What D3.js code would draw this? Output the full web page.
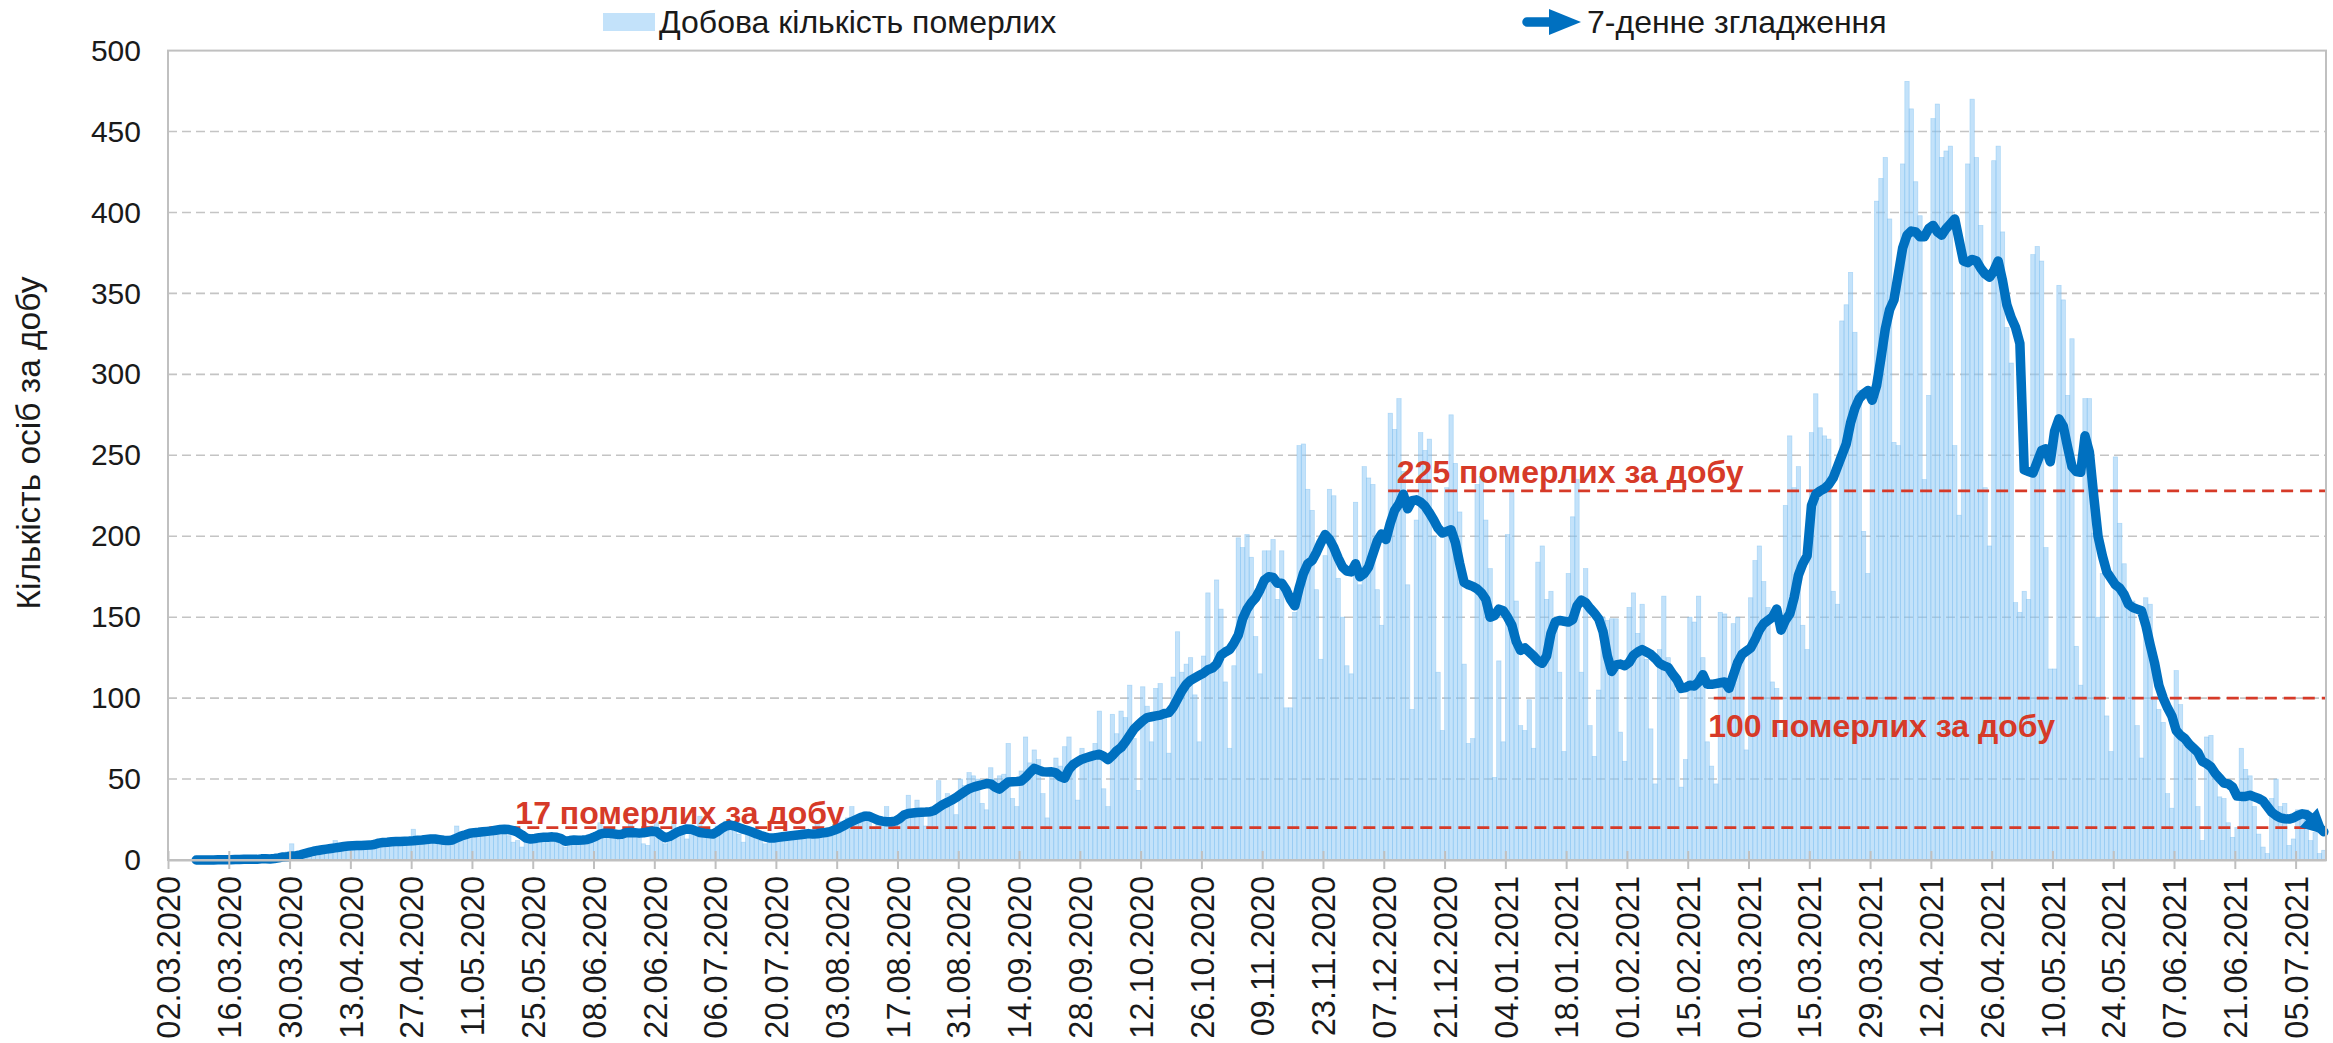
<!DOCTYPE html>
<html>
<head>
<meta charset="utf-8">
<script src="https://cdn.jsdelivr.net/npm/d3@7"></script>
<style>
  body { margin: 0; background: #fff; }
  svg { display: block; font-family: "Liberation Sans", Arial, sans-serif; }
</style>
</head>
<body>
<div class="deathsChart"></div>
<script>
// daily deaths, one value per day starting 02.03.2020 (Mon..Sun per row)
const dailyDeaths = [
  0,0,0,0,0,0,0,
  0,0,0,0,1,0,0,
  0,1,0,1,0,0,1,
  0,2,1,0,2,3,5,
  10,2,5,4,6,5,7,
  7,8,8,12,8,9,9,
  9,10,8,9,10,9,12,
  11,10,13,12,11,12,13,
  19,9,12,13,11,13,12,
  10,14,13,21,15,16,17,
  16,18,17,19,18,20,19,
  16,15,11,12,8,13,12,
  14,15,13,16,14,15,12,
  8,13,12,11,14,12,16,
  17,23,15,16,14,15,17,
  19,24,18,17,10,9,21,
  23,12,10,17,24,16,20,
  13,19,18,27,15,14,16,
  21,20,24,22,23,16,11,
  18,15,14,12,10,11,14,
  15,16,15,13,14,17,19,
  18,14,23,17,19,16,22,
  24,21,26,33,25,28,30,
  27,20,22,23,33,22,24,
  26,30,40,29,37,31,21,
  30,33,49,36,41,39,28,
  50,46,54,52,50,35,31,
  57,50,52,53,72,38,33,
  55,76,60,68,62,41,26,
  55,63,58,70,76,61,37,
  69,60,64,72,92,44,33,
  90,78,92,88,108,75,43,
  107,95,73,106,109,91,66,
  113,141,116,121,125,102,73,
  126,165,116,173,155,110,69,
  120,199,193,201,187,138,115,
  191,191,198,161,191,94,94,
  153,256,257,229,216,167,124,
  188,229,225,174,150,120,115,
  221,170,243,236,232,167,145,
  195,276,266,285,240,170,93,
  210,264,253,260,200,116,80,
  230,275,245,215,121,72,75,
  232,237,210,180,51,123,73,
  201,227,160,83,80,99,69,
  184,194,161,166,144,116,67,
  177,212,235,116,180,83,64,
  105,150,148,149,149,79,61,
  156,165,140,158,124,81,47,
  130,163,125,115,105,45,62,
  150,147,163,125,73,58,47,
  153,152,110,146,150,124,68,
  162,185,194,172,156,110,106,
  80,219,262,230,243,145,130,
  264,288,267,262,260,166,158,
  333,343,363,326,290,203,177,
  290,407,421,434,396,258,256,
  430,481,464,419,398,235,287,
  458,467,434,438,441,256,213,
  367,430,470,434,392,230,194,
  432,441,388,329,307,159,153,
  166,161,374,379,370,193,118,
  118,355,346,287,322,132,108,
  285,285,202,150,177,89,67,
  249,208,183,158,160,83,63,
  162,158,101,93,85,41,32,
  117,96,71,70,67,33,12,
  76,77,56,39,38,23,14,
  20,69,56,52,33,16,8,
  4,38,50,33,35,9,13,
  31,31,31,12,17,4,6
];

// 7-day smoothing, first value belongs to day index 6 (08.03.2020)
const smoothStartDay = 6;
const smoothed = [
  0,0,0,0,0,0.1,0.1,0.1,0.1,0.3,
  0.3,0.4,0.4,0.4,0.4,0.7,0.7,0.6,0.9,1.3,
  1.9,2.0,2.5,2.7,3.2,4.0,4.7,5.4,5.9,6.3,
  6.7,7.1,7.5,7.9,8.3,8.6,8.8,8.9,9.0,9.1,
  9.2,9.6,10.4,10.8,11.0,11.3,11.4,11.5,11.6,11.7,
  11.9,12.2,12.4,12.7,13.0,13.0,12.6,12.2,12.0,12.4,
  13.6,14.8,15.6,16.5,16.9,17.1,17.4,17.7,18.0,18.4,
  18.8,19.0,18.8,18.2,17.2,15.5,13.5,13.0,13.3,13.8,
  14.0,14.1,14.3,14.0,13.2,11.6,12.0,12.3,12.2,12.3,
  12.6,13.5,14.6,16.0,16.6,16.5,16.2,15.8,15.9,16.8,
  17.0,16.9,16.6,16.8,17.3,17.8,17.6,15.5,13.8,14.5,
  16.0,17.5,18.4,19.2,19.0,18.0,17.0,16.6,16.3,16.0,
  17.5,19.5,21.0,21.5,21.0,20.0,19.0,18.2,17.3,16.2,
  15.2,14.3,13.6,13.6,14.0,14.4,14.7,15.0,15.3,15.6,
  15.9,16.3,16.0,16.2,16.7,17.0,17.5,18.5,19.6,21.0,
  22.5,23.8,25.0,26.2,27.1,27.0,25.8,24.6,24.0,23.6,
  23.6,24.0,25.5,27.8,28.7,29.0,29.3,29.5,29.6,29.8,
  30.6,32.5,34.3,35.6,37.0,38.6,40.5,42.3,44.0,45.0,
  45.8,46.5,47.2,47.0,45.0,43.8,46.0,48.2,48.4,48.5,
  48.8,51.0,54.0,56.6,55.5,54.5,54.3,54.5,53.8,51.5,
  50.5,56.0,59.0,60.8,62.3,63.2,64.0,64.8,65.3,64.0,
  62.0,64.5,67.5,69.5,73.0,77.0,81.0,83.5,86.0,88.0,
  88.5,89.0,89.5,90.5,91.0,94.5,99.5,104.5,108.5,111.0,
  112.5,114.0,115.5,117.5,118.5,121.0,126.5,128.5,130.0,134.0,
  139.0,149.0,155.0,159.0,162.0,167.0,173.0,175.0,174.6,171.0,
  171.0,167.0,161.0,157.0,168.0,177.0,183.0,185.0,190.0,196.0,
  201.0,198.0,193.0,186.5,181.0,178.5,178.0,183.0,175.0,177.0,
  181.0,189.0,197.0,201.4,198.0,208.0,216.0,220.0,226.0,217.0,
  222.0,222.5,221.0,218.5,214.5,210.0,205.0,202.0,203.0,204.0,
  196.0,183.0,171.5,170.0,169.0,167.5,165.0,161.0,150.0,151.0,
  155.0,154.0,150.0,145.0,135.0,129.5,131.0,128.5,126.0,123.0,
  121.5,126.0,140.0,147.0,148.0,147.5,147.0,148.5,157.0,160.5,
  159.0,155.5,152.5,149.0,141.0,126.0,116.5,120.5,121.0,120.0,
  122.0,126.5,128.5,130.0,128.5,127.0,124.5,121.5,120.0,119.0,
  115.0,111.5,106.0,106.5,108.0,107.5,110.0,114.5,108.5,108.5,
  109.0,109.5,110.0,106.0,114.0,122.0,127.0,129.0,131.0,136.0,
  142.0,146.0,148.0,150.0,155.0,142.0,148.0,152.0,162.0,176.0,
  183.0,188.0,219.0,226.0,228.0,229.5,232.0,236.0,243.0,250.0,
  257.0,270.0,279.0,285.0,288.0,290.0,284.0,293.0,310.0,328.0,
  340.0,346.0,362.0,378.0,386.0,388.5,388.0,385.0,385.0,390.0,
  392.0,388.0,386.0,390.0,393.0,396.0,383.0,370.0,369.0,371.0,
  370.0,365.5,362.0,360.0,364.0,370.0,358.0,343.0,335.0,329.0,
  319.0,241.0,240.0,239.0,246.0,253.0,254.0,246.0,265.0,272.5,
  268.0,255.0,243.0,240.0,239.5,262.0,252.0,225.0,200.0,188.0,
  178.0,174.0,170.0,168.0,164.0,158.0,156.0,155.0,154.0,145.0,
  133.0,122.0,108.0,100.0,94.0,89.0,80.0,77.0,75.0,71.5,
  69.0,66.5,61.0,59.5,57.5,53.5,50.5,47.5,47.0,45.0,
  39.5,39.3,39.3,40.0,39.0,38.0,36.5,33.0,29.5,27.5,
  26.0,25.5,25.3,26.0,27.5,28.5,28.0,26.0,23.0,20.0,17.5
];

// x tick labels, one every 14 days
const tickLabels = [
  "02.03.2020","16.03.2020","30.03.2020","13.04.2020","27.04.2020","11.05.2020",
  "25.05.2020","08.06.2020","22.06.2020","06.07.2020","20.07.2020","03.08.2020",
  "17.08.2020","31.08.2020","14.09.2020","28.09.2020","12.10.2020","26.10.2020",
  "09.11.2020","23.11.2020","07.12.2020","21.12.2020","04.01.2021","18.01.2021",
  "01.02.2021","15.02.2021","01.03.2021","15.03.2021","29.03.2021","12.04.2021",
  "26.04.2021","10.05.2021","24.05.2021","07.06.2021","21.06.2021","05.07.2021"
];
const yTicks = [0, 50, 100, 150, 200, 250, 300, 350, 400, 450, 500];

// reference levels (red dashed lines)
const refValues = [20, 228, 100];
const refFromDay = [74, 281, 356];
const refLabels = ["17 померлих за добу", "225 померлих за добу", "100 померлих за добу"];

const legendLabels = ["Добова кількість померлих", "7-денне згладження"];

const width = 2333, height = 1043;
const margin = { top: 50.6, right: 7, bottom: 183, left: 168 };
const plotRight = width - margin.right;
const plotBottom = height - margin.bottom;

const barBlue = "#8cc8f5";
const lineBlue = "#0070c0";
const red = "#d63a28";

const svg = d3.select(".deathsChart").append("svg")
  .attr("width", width)
  .attr("height", height)
  .attr("viewBox", [0, 0, width, height]);

const x = d3.scaleLinear().domain([0, dailyDeaths.length]).range([margin.left, plotRight]);
const y = d3.scaleLinear().domain([0, 500]).range([plotBottom, margin.top]);

// grid
svg.append("g")
  .selectAll("line")
  .data(yTicks.filter(v => v > 0 && v < 500))
  .join("line")
  .attr("x1", margin.left)
  .attr("x2", plotRight)
  .attr("y1", d => y(d))
  .attr("y2", d => y(d))
  .attr("stroke", "#c4c4c4")
  .attr("stroke-width", 1.6)
  .attr("stroke-dasharray", "9,5");

// bars
svg.append("g")
  .selectAll("rect")
  .data(dailyDeaths)
  .join("rect")
  .attr("x", (d, i) => x(i))
  .attr("y", d => y(d))
  .attr("width", x(1) - x(0))
  .attr("height", d => y(0) - y(d))
  .attr("fill", barBlue)
  .attr("fill-opacity", 0.52)
  .attr("stroke", "#6fb9ee")
  .attr("stroke-opacity", 0.45)
  .attr("stroke-width", 0.7);

// reference lines
svg.append("g")
  .selectAll("line")
  .data(refValues)
  .join("line")
  .attr("x1", (d, i) => x(refFromDay[i]))
  .attr("x2", plotRight)
  .attr("y1", d => y(d))
  .attr("y2", d => y(d))
  .attr("stroke", red)
  .attr("stroke-width", 2.6)
  .attr("stroke-dasharray", "12,7");

// label placement (layout only): day offset from line start, vertical offset from line
const labelDx = [6, 2, -1.3];
const labelDy = [-4, -8, 39];
svg.append("g")
  .selectAll("text")
  .data(refLabels)
  .join("text")
  .attr("x", (d, i) => x(refFromDay[i] + labelDx[i]))
  .attr("y", (d, i) => y(refValues[i]) + labelDy[i])
  .attr("fill", red)
  .attr("font-size", 32)
  .attr("font-weight", "bold")
  .text(d => d);

// arrow marker for smoothing line
const defs = svg.append("defs");
defs.append("marker")
  .attr("id", "arrowEnd")
  .attr("viewBox", "0 0 10 10")
  .attr("refX", 8)
  .attr("refY", 5)
  .attr("markerUnits", "userSpaceOnUse")
  .attr("markerWidth", 28)
  .attr("markerHeight", 26)
  .attr("orient", "auto")
  .append("path")
  .attr("d", "M0,0 L10,5 L0,10 Z")
  .attr("fill", lineBlue);

const line = d3.line()
  .x((d, i) => x(smoothStartDay + i + 0.5))
  .y(d => y(d));

svg.append("path")
  .datum(smoothed)
  .attr("fill", "none")
  .attr("stroke", lineBlue)
  .attr("stroke-width", 9.5)
  .attr("stroke-linejoin", "round")
  .attr("stroke-linecap", "round")
  .attr("marker-end", "url(#arrowEnd)")
  .attr("d", line);

// plot frame
svg.append("rect")
  .attr("x", margin.left)
  .attr("y", margin.top)
  .attr("width", plotRight - margin.left)
  .attr("height", plotBottom - margin.top)
  .attr("fill", "none")
  .attr("stroke", "#c0c0c0")
  .attr("stroke-width", 2);

// x axis
const tickDays = tickLabels.map((d, i) => i * 14);
const xAxis = svg.append("g")
  .attr("transform", `translate(0,${plotBottom})`)
  .call(d3.axisBottom(x)
    .tickValues(tickDays)
    .tickFormat((d, i) => tickLabels[i])
    .tickSizeOuter(0));
xAxis.select(".domain").attr("stroke", "#c0c0c0").attr("stroke-width", 2);
xAxis.selectAll(".tick line")
  .attr("y1", -9)
  .attr("y2", 9)
  .attr("stroke", "#c0c0c0")
  .attr("stroke-width", 2);
xAxis.selectAll(".tick text")
  .attr("transform", "rotate(-90)")
  .attr("x", -16)
  .attr("y", 0)
  .attr("dy", "0.36em")
  .attr("text-anchor", "end")
  .attr("font-size", 32.5)
  .attr("font-family", "Liberation Sans, Arial, sans-serif")
  .attr("fill", "#1a1a1a");

// y axis
const yAxis = svg.append("g")
  .attr("transform", `translate(${margin.left},0)`)
  .call(d3.axisLeft(y).tickValues(yTicks).tickSize(0).tickPadding(27));
yAxis.select(".domain").remove();
yAxis.selectAll(".tick text")
  .attr("font-size", 30)
  .attr("font-family", "Liberation Sans, Arial, sans-serif")
  .attr("fill", "#1a1a1a");

svg.append("text")
  .attr("transform", "translate(28,443) rotate(-90)")
  .attr("text-anchor", "middle")
  .attr("dominant-baseline", "central")
  .attr("font-size", 33.5)
  .attr("fill", "#1a1a1a")
  .text("Кількість осіб за добу");

// legend
const legend = svg.append("g").attr("class", "legend");
legend.append("rect")
  .attr("x", 603).attr("y", 13)
  .attr("width", 52).attr("height", 18)
  .attr("fill", barBlue).attr("fill-opacity", 0.52);
legend.append("text")
  .attr("x", 659).attr("y", 22)
  .attr("dominant-baseline", "central")
  .attr("font-size", 32)
  .attr("fill", "#1a1a1a")
  .text(legendLabels[0]);
legend.append("line")
  .attr("x1", 1527).attr("x2", 1556)
  .attr("y1", 22).attr("y2", 22)
  .attr("stroke", lineBlue)
  .attr("stroke-width", 9.5)
  .attr("stroke-linecap", "round");
legend.append("path")
  .attr("d", "M1549,9 L1581,22 L1549,35 Z")
  .attr("fill", lineBlue);
legend.append("text")
  .attr("x", 1587).attr("y", 22)
  .attr("dominant-baseline", "central")
  .attr("font-size", 32)
  .attr("fill", "#1a1a1a")
  .text(legendLabels[1]);
</script>
</body>
</html>
